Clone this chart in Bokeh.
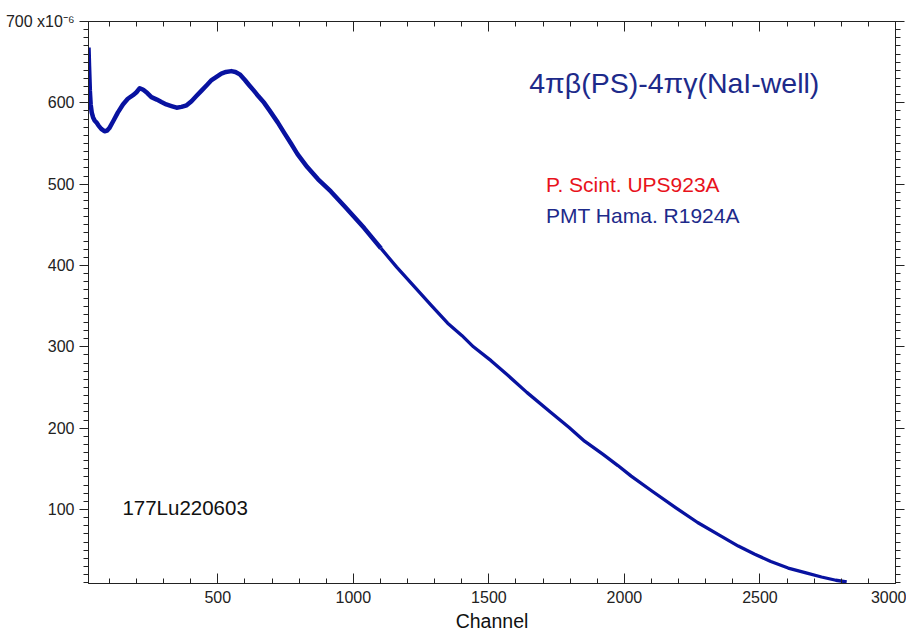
import math
from bokeh.plotting import figure
from bokeh.models import Range1d, LinearAxis, FixedTicker, Label
from bokeh.embed import file_html
from bokeh.resources import INLINE

# ---- data (counts in units of 1e-6) ----
channel = [23, 25, 28, 31, 35, 40, 46, 52, 60, 70, 82, 92, 100, 115, 131, 150,
           168, 190, 200, 212, 225, 240, 255, 275, 292, 310, 329, 348, 366, 385,
           403, 420, 440, 460, 477, 495, 513, 530, 550, 565, 581, 600, 615, 633,
           650, 671, 690, 721, 745, 770, 794, 830, 870, 917, 970, 1040, 1102,
           1160, 1225, 1290, 1348, 1400, 1443, 1508, 1570, 1640, 1730, 1795,
           1853, 1920, 1976, 2025, 2100, 2190, 2270, 2358, 2420, 2481, 2540,
           2604, 2670, 2727, 2780, 2820]
counts = [668, 645, 615, 598, 588, 582, 578, 576, 572, 568, 565, 566, 569, 578,
          588, 598, 605, 610, 613, 618, 616, 612, 607, 604, 601, 598, 596, 594,
          595, 597, 602, 608, 615, 622, 628, 632, 636, 638, 639, 638, 635, 628,
          622, 615, 608, 600, 591, 576, 563, 550, 537, 521, 506, 491, 472, 446,
          421, 398, 374, 350, 329, 314, 300, 283, 265, 244, 219, 201, 184, 168,
          154, 141, 123, 102, 84, 67, 55, 45, 36, 28, 22, 17, 13, 11]

x_ticks = [500, 1000, 1500, 2000, 2500, 3000]
x_minor = [100 * i for i in range(1, 30)]
y_ticks = [100, 200, 300, 400, 500, 600, 700]
y_minor = [10 * i for i in range(1, 70)]

title_text = "4πβ(PS)-4πγ(NaI-well)"
scint_text = "P. Scint. UPS923A"
pmt_text = "PMT Hama. R1924A"
sample_text = "177Lu220603"

FONT = "Liberation Sans"
BLUE = "#0812a0"
NAVY = "#1d2a8a"
AX = "#222222"

p = figure(width=906, height=634, x_range=Range1d(23, 3000), y_range=Range1d(9, 700),
           output_backend="svg", toolbar_location=None,
           min_border_left=88, min_border_right=11, min_border_top=21, min_border_bottom=50)
p.grid.visible = False
p.outline_line_color = AX
p.outline_line_width = 1

xa = p.xaxis[0]
xa.ticker = FixedTicker(ticks=x_ticks, minor_ticks=x_minor)
xa.major_tick_in = 10
xa.major_tick_out = 0
xa.minor_tick_in = 5
xa.minor_tick_out = 0
xa.major_label_standoff = 7
xa.major_label_text_font = FONT
xa.major_label_text_font_size = "16px"
xa.major_label_text_color = AX
xa.axis_label = "Channel"
xa.axis_label_text_font = FONT
xa.axis_label_text_font_size = "19.5px"
xa.axis_label_text_font_style = "normal"
xa.axis_label_text_color = "#111111"
xa.axis_label_standoff = 4
xa.axis_line_color = AX
xa.major_tick_line_color = AX
xa.minor_tick_line_color = AX

ya = p.yaxis[0]
ya.ticker = FixedTicker(ticks=y_ticks, minor_ticks=y_minor)
ya.major_tick_in = 0
ya.major_tick_out = 9
ya.minor_tick_in = 0
ya.minor_tick_out = 5
ya.major_label_standoff = 5
ya.major_label_text_font = FONT
ya.major_label_text_font_size = "16px"
ya.major_label_text_color = AX
ya.major_label_overrides = {700: "700 x10\u207b\u2076"}
ya.axis_line_color = AX
ya.major_tick_line_color = AX
ya.minor_tick_line_color = AX

top = LinearAxis(ticker=FixedTicker(ticks=x_ticks, minor_ticks=x_minor),
                 major_tick_in=10, major_tick_out=0, minor_tick_in=5, minor_tick_out=0,
                 major_label_text_font_size="1px", major_label_text_color=None,
                 major_label_standoff=0,
                 axis_line_color=AX, major_tick_line_color=AX, minor_tick_line_color=AX)
p.add_layout(top, "above")

right = LinearAxis(ticker=FixedTicker(ticks=y_ticks, minor_ticks=y_minor),
                   major_tick_in=0, major_tick_out=9, minor_tick_in=0, minor_tick_out=5,
                   major_label_text_font_size="1px", major_label_text_color=None,
                   major_label_standoff=0,
                   axis_line_color=AX, major_tick_line_color=AX, minor_tick_line_color=AX)
p.add_layout(right, "right")

# noisy early part drawn a bit thicker, smoother tail thinner (same series)
split = channel.index(1102)
p.line(channel[:split + 1], counts[:split + 1], line_color=BLUE, line_width=4.5, line_join="round")
p.line(channel[split:], counts[split:], line_color=BLUE, line_width=3.3, line_join="round")

p.add_layout(Label(x=1649, y=624, text=title_text, text_font=FONT, text_font_size="28.5px",
                   text_color=NAVY, text_baseline="middle", text_align="left"))
p.add_layout(Label(x=1711, y=500, text=scint_text, text_font=FONT, text_font_size="21px",
                   text_color="#e8121b", text_baseline="middle", text_align="left"))
p.add_layout(Label(x=1711, y=462, text=pmt_text, text_font=FONT, text_font_size="21px",
                   text_color=NAVY, text_baseline="middle", text_align="left"))
p.add_layout(Label(x=148, y=103, text=sample_text, text_font=FONT, text_font_size="20.5px",
                   text_color="#111111", text_baseline="middle", text_align="left"))
p.add_layout(Label(x=-209, y=362, text="Normalised counts", text_font=FONT,
                   text_font_size="20px", text_color="#111111", angle=math.pi / 2,
                   text_baseline="middle", text_align="center"))

open("out.html", "w").write(file_html(p, INLINE))
